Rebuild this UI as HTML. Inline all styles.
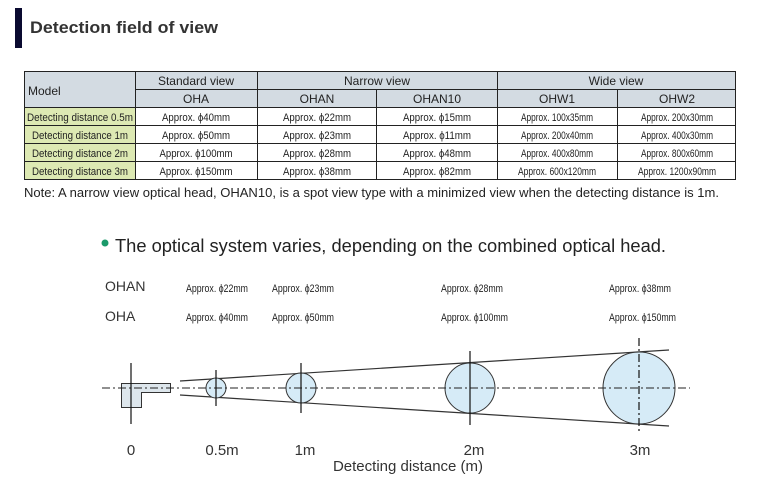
<!DOCTYPE html>
<html><head><meta charset="utf-8"><style>
body{margin:0;background:#fff;width:762px;height:493px;overflow:hidden}
svg{display:block;font-family:"Liberation Sans",sans-serif}
</style></head><body>
<svg width="762" height="493" viewBox="0 0 762 493" xmlns="http://www.w3.org/2000/svg">
<rect x="15" y="8" width="7" height="40" fill="#0a0a30"/>
<text x="30" y="33" font-size="17" font-weight="bold" fill="#333" textLength="188" lengthAdjust="spacingAndGlyphs">Detection field of view</text>

<!-- table -->
<rect x="24" y="71" width="712" height="37" fill="#d3dbe2"/>
<rect x="24" y="108" width="112" height="72" fill="#dde9b3"/>
<g stroke="#222" stroke-width="1" fill="none">
<rect x="24.5" y="71.5" width="711" height="108"/>
<line x1="136" y1="89.5" x2="736" y2="89.5"/>
<line x1="24" y1="107.5" x2="736" y2="107.5"/>
<line x1="24" y1="125.5" x2="736" y2="125.5"/>
<line x1="24" y1="143.5" x2="736" y2="143.5"/>
<line x1="24" y1="161.5" x2="736" y2="161.5"/>
<line x1="135.5" y1="71" x2="135.5" y2="180"/>
<line x1="257.5" y1="71" x2="257.5" y2="180"/>
<line x1="376.5" y1="89" x2="376.5" y2="180"/>
<line x1="497.5" y1="71" x2="497.5" y2="180"/>
<line x1="617.5" y1="89" x2="617.5" y2="180"/>
</g>
<g font-size="12" fill="#222" text-anchor="middle">
<text x="28" y="95" text-anchor="start">Model</text>
<text x="196" y="85">Standard view</text>
<text x="377" y="85">Narrow view</text>
<text x="616" y="85">Wide view</text>
<text x="196" y="103">OHA</text>
<text x="317" y="103">OHAN</text>
<text x="437" y="103">OHAN10</text>
<text x="557" y="103">OHW1</text>
<text x="677" y="103">OHW2</text>
</g>
<g font-size="11" fill="#222" text-anchor="middle">
<text x="80" y="121" textLength="106" lengthAdjust="spacingAndGlyphs">Detecting distance 0.5m</text>
<text x="80" y="139" textLength="96" lengthAdjust="spacingAndGlyphs">Detecting distance  1m</text>
<text x="80" y="157" textLength="96" lengthAdjust="spacingAndGlyphs">Detecting distance  2m</text>
<text x="80" y="175" textLength="96" lengthAdjust="spacingAndGlyphs">Detecting distance  3m</text>
<text x="196" y="121" textLength="68" lengthAdjust="spacingAndGlyphs">Approx. ϕ40mm</text>
<text x="196" y="139" textLength="68" lengthAdjust="spacingAndGlyphs">Approx. ϕ50mm</text>
<text x="196" y="157" textLength="73" lengthAdjust="spacingAndGlyphs">Approx. ϕ100mm</text>
<text x="196" y="175" textLength="73" lengthAdjust="spacingAndGlyphs">Approx. ϕ150mm</text>
<text x="317" y="121" textLength="68" lengthAdjust="spacingAndGlyphs">Approx. ϕ22mm</text>
<text x="317" y="139" textLength="68" lengthAdjust="spacingAndGlyphs">Approx. ϕ23mm</text>
<text x="317" y="157" textLength="68" lengthAdjust="spacingAndGlyphs">Approx. ϕ28mm</text>
<text x="317" y="175" textLength="68" lengthAdjust="spacingAndGlyphs">Approx. ϕ38mm</text>
<text x="437" y="121" textLength="68" lengthAdjust="spacingAndGlyphs">Approx. ϕ15mm</text>
<text x="437" y="139" textLength="68" lengthAdjust="spacingAndGlyphs">Approx. ϕ11mm</text>
<text x="437" y="157" textLength="68" lengthAdjust="spacingAndGlyphs">Approx. ϕ48mm</text>
<text x="437" y="175" textLength="68" lengthAdjust="spacingAndGlyphs">Approx. ϕ82mm</text>
<text x="557" y="121" textLength="72" lengthAdjust="spacingAndGlyphs">Approx. 100x35mm</text>
<text x="557" y="139" textLength="72" lengthAdjust="spacingAndGlyphs">Approx. 200x40mm</text>
<text x="557" y="157" textLength="72" lengthAdjust="spacingAndGlyphs">Approx. 400x80mm</text>
<text x="557" y="175" textLength="78" lengthAdjust="spacingAndGlyphs">Approx. 600x120mm</text>
<text x="677" y="121" textLength="72" lengthAdjust="spacingAndGlyphs">Approx. 200x30mm</text>
<text x="677" y="139" textLength="72" lengthAdjust="spacingAndGlyphs">Approx. 400x30mm</text>
<text x="677" y="157" textLength="72" lengthAdjust="spacingAndGlyphs">Approx. 800x60mm</text>
<text x="677" y="175" textLength="78" lengthAdjust="spacingAndGlyphs">Approx. 1200x90mm</text>
</g>
<text x="24" y="197" font-size="13" fill="#222" textLength="695" lengthAdjust="spacingAndGlyphs">Note: A narrow view optical head, OHAN10, is a spot view type with a minimized view when the detecting distance is 1m.</text>

<!-- diagram heading -->
<circle cx="105" cy="243" r="3.5" fill="#1a9a6a"/>
<text x="115" y="252" font-size="18" fill="#222" textLength="551" lengthAdjust="spacingAndGlyphs">The optical system varies, depending on the combined optical head.</text>

<g font-size="14" fill="#333">
<text x="105" y="291">OHAN</text>
<text x="105" y="321">OHA</text>
</g>
<g font-size="11" fill="#222">
<text x="186" y="292" textLength="62" lengthAdjust="spacingAndGlyphs">Approx. ϕ22mm</text>
<text x="186" y="321" textLength="62" lengthAdjust="spacingAndGlyphs">Approx. ϕ40mm</text>
<text x="272" y="292" textLength="62" lengthAdjust="spacingAndGlyphs">Approx. ϕ23mm</text>
<text x="272" y="321" textLength="62" lengthAdjust="spacingAndGlyphs">Approx. ϕ50mm</text>
<text x="441" y="292" textLength="62" lengthAdjust="spacingAndGlyphs">Approx. ϕ28mm</text>
<text x="441" y="321" textLength="67" lengthAdjust="spacingAndGlyphs">Approx. ϕ100mm</text>
<text x="609" y="292" textLength="62" lengthAdjust="spacingAndGlyphs">Approx. ϕ38mm</text>
<text x="609" y="321" textLength="67" lengthAdjust="spacingAndGlyphs">Approx. ϕ150mm</text>
</g>

<!-- diagram -->
<g stroke="#333" stroke-width="1.2">
<line x1="180" y1="381" x2="669" y2="350"/>
<line x1="180" y1="395" x2="669" y2="426"/>
</g>
<g fill="#d6ebf7" stroke="#333" stroke-width="1">
<path d="M121.5 383.5 H170.5 V392.5 H141.5 V407.5 H121.5 Z" fill="#dde6ec"/>
<circle cx="216" cy="388" r="10"/>
<circle cx="301" cy="388" r="15"/>
<circle cx="470" cy="388" r="25"/>
<circle cx="639" cy="388" r="36"/>
</g>
<line x1="102" y1="388" x2="690" y2="388" stroke="#222" stroke-width="1" stroke-dasharray="8,3,2,3"/>
<g stroke="#111" stroke-width="1.2">
<line x1="131" y1="363" x2="131" y2="424"/>
<line x1="216" y1="370" x2="216" y2="406"/>
<line x1="301" y1="363" x2="301" y2="413"/>
<line x1="470" y1="351" x2="470" y2="425"/>
<line x1="639" y1="338" x2="639" y2="432" stroke-dasharray="8,3,2,3"/>
</g>
<g font-size="15" fill="#333" text-anchor="middle">
<text x="131" y="455">0</text>
<text x="222" y="455">0.5m</text>
<text x="305" y="455">1m</text>
<text x="474" y="455">2m</text>
<text x="640" y="455">3m</text>
<text x="408" y="471">Detecting distance (m)</text>
</g>
</svg>
</body></html>
